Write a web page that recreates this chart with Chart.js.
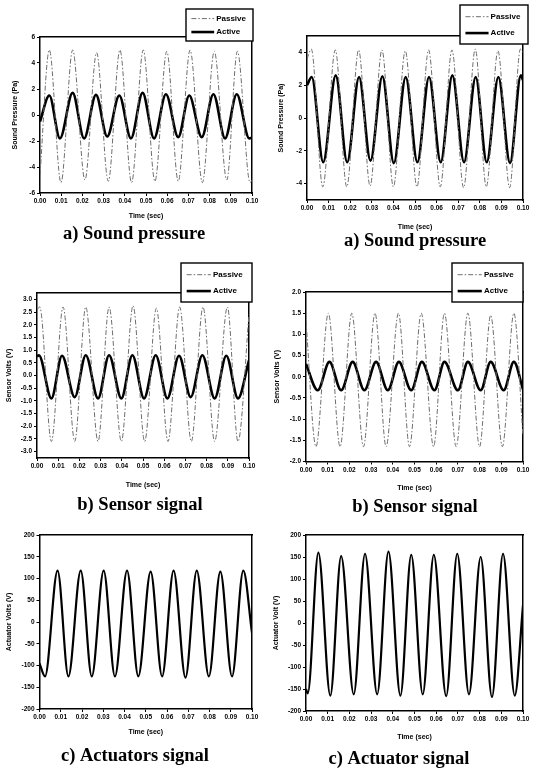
<!DOCTYPE html>
<html>
<head>
<meta charset="utf-8">
<script src="https://cdn.jsdelivr.net/npm/chart.js@4.4.1/dist/chart.umd.min.js"></script>
<style>
  html, body { margin: 0; padding: 0; background: #fff; }
  body { width: 537px; height: 770px; position: relative; overflow: hidden; }
  canvas { position: absolute; }
</style>
</head>
<body>
<canvas id="cA"></canvas>
<canvas id="cB"></canvas>
<canvas id="cC"></canvas>
<canvas id="cD"></canvas>
<canvas id="cE"></canvas>
<canvas id="cF"></canvas>
<script>
// ---------- shared axis ticks ----------
const X_TICKS = [0, 0.01, 0.02, 0.03, 0.04, 0.05, 0.06, 0.07, 0.08, 0.09, 0.10];
const X_TICK_LABELS = ['0.00', '0.01', '0.02', '0.03', '0.04', '0.05', '0.06', '0.07', '0.08', '0.09', '0.10'];

const A_Y_TICKS = [-6, -4, -2, 0, 2, 4, 6];
const A_Y_LABELS = ['-6', '-4', '-2', '0', '2', '4', '6'];
const B_Y_TICKS = [-4, -2, 0, 2, 4];
const B_Y_LABELS = ['-4', '-2', '0', '2', '4'];
const C_Y_TICKS = [-3, -2.5, -2, -1.5, -1, -0.5, 0, 0.5, 1, 1.5, 2, 2.5, 3];
const C_Y_LABELS = ['-3.0', '-2.5', '-2.0', '-1.5', '-1.0', '-0.5', '0.0', '0.5', '1.0', '1.5', '2.0', '2.5', '3.0'];
const D_Y_TICKS = [-2, -1.5, -1, -0.5, 0, 0.5, 1, 1.5, 2];
const D_Y_LABELS = ['-2.0', '-1.5', '-1.0', '-0.5', '0.0', '0.5', '1.0', '1.5', '2.0'];
const E_Y_TICKS = [-200, -150, -100, -50, 0, 50, 100, 150, 200];
const E_Y_LABELS = ['-200', '-150', '-100', '-50', '0', '50', '100', '150', '200'];

// ---------- panel a (left): sound pressure ----------
const A_PASSIVE_T = [0, 0.0044, 0.0099, 0.0154, 0.0212, 0.0267, 0.0322, 0.0377, 0.0432, 0.0487, 0.0542, 0.0598, 0.0652, 0.0708, 0.0766, 0.0822, 0.0881, 0.0931, 0.0991, 0.1];
const A_PASSIVE_V = [-4.6, 5.0, -5.2, 5.0, -5.0, 4.8, -5.1, 5.0, -5.2, 5.0, -5.1, 4.9, -5.1, 5.0, -5.2, 4.9, -5.0, 4.9, -5.2, -5.0];
const A_ACTIVE_T = [0, 0.0044, 0.0094, 0.0154, 0.0208, 0.0264, 0.0317, 0.0374, 0.0429, 0.0484, 0.0538, 0.0594, 0.0652, 0.0704, 0.0763, 0.0818, 0.0873, 0.0928, 0.0987, 0.1];
const A_ACTIVE_V = [-0.5, 1.5, -1.8, 1.7, -1.8, 1.55, -1.65, 1.5, -1.8, 1.7, -1.8, 1.6, -1.7, 1.5, -1.7, 1.6, -1.8, 1.6, -1.8, -1.75];

// ---------- panel a (right): sound pressure ----------
const B_PASSIVE_T = [0, 0.0020, 0.0073, 0.0131, 0.0184, 0.0239, 0.0292, 0.0347, 0.0400, 0.0455, 0.0509, 0.0563, 0.0617, 0.0671, 0.0725, 0.0779, 0.0830, 0.0884, 0.0938, 0.0988, 0.1];
const B_PASSIVE_V = [3.6, 4.2, -4.2, 4.15, -4.2, 4.15, -4.15, 4.15, -4.2, 4.1, -4.2, 4.15, -4.2, 4.15, -4.25, 4.2, -4.2, 4.1, -4.25, 4.2, 4.0];
const B_ACTIVE_T = [0, 0.0022, 0.0075, 0.0133, 0.0186, 0.0241, 0.0294, 0.0349, 0.0402, 0.0457, 0.0511, 0.0565, 0.0619, 0.0673, 0.0727, 0.0781, 0.0832, 0.0886, 0.0940, 0.0990, 0.1];
const B_ACTIVE_V = [2.0, 2.5, -2.7, 2.6, -2.7, 2.5, -2.6, 2.55, -2.75, 2.5, -2.7, 2.5, -2.7, 2.6, -2.7, 2.5, -2.7, 2.5, -2.75, 2.6, 2.3];

// ---------- panel b (left): sensor signal ----------
const C_PASSIVE_T = [0, 0.0013, 0.0068, 0.0123, 0.0178, 0.0230, 0.0288, 0.0340, 0.0398, 0.0453, 0.0508, 0.0563, 0.0618, 0.0673, 0.0728, 0.0783, 0.0838, 0.0898, 0.0948, 0.1];
const C_PASSIVE_V = [2.6, 2.7, -2.6, 2.7, -2.6, 2.7, -2.6, 2.7, -2.6, 2.75, -2.6, 2.65, -2.6, 2.7, -2.6, 2.7, -2.6, 2.7, -2.6, 2.4];
const C_ACTIVE_T = [0, 0.0009, 0.0068, 0.0118, 0.0178, 0.0230, 0.0288, 0.0340, 0.0398, 0.0450, 0.0505, 0.0560, 0.0615, 0.0670, 0.0725, 0.0780, 0.0838, 0.0893, 0.0948, 0.1];
const C_ACTIVE_V = [0.75, 0.8, -0.9, 0.78, -0.85, 0.8, -0.9, 0.8, -0.9, 0.8, -0.9, 0.8, -0.9, 0.78, -0.85, 0.8, -0.9, 0.78, -0.9, 0.6];

// ---------- panel b (right): sensor signal ----------
const D_PASSIVE_T = [0, 0.0046, 0.0103, 0.0157, 0.0211, 0.0265, 0.0318, 0.0369, 0.0426, 0.0477, 0.0531, 0.0588, 0.0638, 0.0692, 0.0746, 0.0800, 0.0851, 0.0905, 0.0958, 0.1];
const D_PASSIVE_V = [1.3, -1.65, 1.5, -1.65, 1.5, -1.65, 1.5, -1.65, 1.5, -1.65, 1.5, -1.65, 1.5, -1.65, 1.5, -1.65, 1.45, -1.65, 1.5, -1.4];
const D_ACTIVE_T = [0, 0.0054, 0.0108, 0.0162, 0.0215, 0.0269, 0.0323, 0.0377, 0.0428, 0.0485, 0.0534, 0.0592, 0.0638, 0.0700, 0.0746, 0.0805, 0.0851, 0.0911, 0.0958, 0.1];
const D_ACTIVE_V = [0.3, -0.32, 0.35, -0.32, 0.35, -0.32, 0.35, -0.32, 0.35, -0.32, 0.35, -0.32, 0.35, -0.32, 0.35, -0.32, 0.35, -0.32, 0.35, -0.3];

// ---------- panel c (left): actuators signal ----------
const E_ACT_T = [0, 0.0026, 0.0085, 0.0136, 0.0194, 0.0246, 0.0302, 0.0355, 0.0412, 0.0465, 0.0523, 0.0577, 0.0631, 0.0687, 0.0740, 0.0797, 0.0851, 0.0906, 0.0959, 0.1];
const E_ACT_V = [-95, -125, 118, -125, 118, -125, 118, -125, 118, -125, 116, -125, 118, -128, 118, -125, 116, -125, 118, -25];

// ---------- panel c (right): actuator signal ----------
const F_ACT_T = [0, 0.0008, 0.0057, 0.0112, 0.0162, 0.0220, 0.0272, 0.0328, 0.0380, 0.0435, 0.0485, 0.0538, 0.0589, 0.0646, 0.0697, 0.0751, 0.0805, 0.0857, 0.0908, 0.0962, 0.1];
const F_ACT_V = [-150, -160, 160, -165, 152, -162, 157, -162, 162, -165, 155, -162, 155, -166, 157, -162, 150, -168, 157, -165, 40];

// ---------- styles ----------
const PASSIVE_STYLE = { color: '#6e6e6e', width: 1, dash: [5, 2, 1.5, 2] };
const ACTIVE_STYLE = { color: '#000000', width: 2.6, dash: [] };
const ACT_STYLE = { color: '#000000', width: 2.2, dash: [] };

const FONT = '"Liberation Sans", Arial, sans-serif';

const boxLegendPlugin = {
  id: 'boxLegend',
  afterDraw(chart, args, opts) {
    const ctx = chart.ctx;
    ctx.save();
    if (opts.box) {
      const [x0, y0, x1, y1] = opts.box;
      const w = x1 - x0, h = y1 - y0;
      ctx.fillStyle = '#fff';
      ctx.fillRect(x0, y0, w, h);
      ctx.strokeStyle = '#000';
      ctx.lineWidth = 1.4;
      ctx.strokeRect(x0, y0, w, h);
      const ds = chart.data.datasets;
      ds.forEach((d, i) => {
        const y = y0 + h * (0.3 + (ds.length > 1 ? 0.42 * i / (ds.length - 1) : 0));
        ctx.beginPath();
        ctx.setLineDash(d.borderDash || []);
        ctx.lineWidth = d.borderWidth;
        ctx.strokeStyle = d.borderColor;
        ctx.moveTo(x0 + 0.08 * w, y);
        ctx.lineTo(x0 + 0.42 * w, y);
        ctx.stroke();
        ctx.setLineDash([]);
        ctx.fillStyle = '#000';
        ctx.font = 'bold 8px ' + FONT;
        ctx.textBaseline = 'middle';
        ctx.textAlign = 'left';
        ctx.fillText(d.label, x0 + 0.45 * w, y);
      });
    }
    ctx.restore();
  }
};

function buildPanel(p) {
  const canvas = document.getElementById(p.id);
  const xlh = 7 * 1.2;
  const ylh = 7 * 1.2;
  const capLh = 18.5;
  let w2 = 2 * p.capX - p.cl - p.R;
  const cw = Math.ceil(p.R + w2 - p.cl);
  w2 = cw - (p.R - p.cl);
  const yW = p.L - p.cl;
  const Hx = p.timeY + xlh / 2 - p.B;
  const capPadTop = p.capY - capLh / 2 - (p.B + Hx);
  const ch = Math.ceil(p.B + Hx + capPadTop + capLh + 3 - p.ct);
  const capPadBottom = (p.ct + ch) - (p.B + Hx + capPadTop + capLh);
  const yTitlePad = p.yTitleX - p.cl - ylh / 2;

  canvas.width = cw;
  canvas.height = ch;
  canvas.style.left = p.cl + 'px';
  canvas.style.top = p.ct + 'px';
  canvas.style.width = cw + 'px';
  canvas.style.height = ch + 'px';

  const legendBox = p.legend ? [p.legend[0] - p.cl, p.legend[1] - p.ct, p.legend[2] - p.cl, p.legend[3] - p.ct] : null;

  new Chart(canvas, {
    type: 'line',
    data: {
      datasets: p.series.map(s => ({
        label: s.label,
        data: s.t.map((t, i) => ({ x: t, y: s.v[i] })),
        borderColor: s.style.color,
        borderWidth: s.style.width,
        borderDash: s.style.dash,
        pointRadius: 0,
        fill: false,
        cubicInterpolationMode: 'monotone'
      }))
    },
    options: {
      responsive: false,
      animation: false,
      devicePixelRatio: 1,
      events: [],
      layout: { padding: { left: 0, top: p.T - p.ct, right: 0, bottom: 0 } },
      plugins: {
        legend: { display: false },
        tooltip: { enabled: false },
        title: {
          display: true,
          text: p.caption,
          position: 'bottom',
          fullSize: true,
          color: '#000',
          font: { family: '"Liberation Serif", "Times New Roman", serif', size: 18.5, weight: 'bold', lineHeight: 1 },
          padding: { top: capPadTop, bottom: capPadBottom }
        },
        boxLegend: { box: legendBox }
      },
      scales: {
        x: {
          type: 'linear',
          position: 'bottom',
          min: 0,
          max: 0.1,
          afterBuildTicks: s => { s.ticks = X_TICKS.map(v => ({ value: v })); },
          afterFit: s => { s.height = Hx; },
          ticks: {
            callback: (v, i) => X_TICK_LABELS[i],
            font: { family: FONT, size: 6.5, weight: 'bold' },
            color: '#000',
            padding: 1.5,
            maxRotation: 0,
            autoSkip: false
          },
          grid: { display: true, drawOnChartArea: false, drawTicks: true, tickLength: 3, color: '#000', lineWidth: 1 },
          border: { display: true, color: '#000', width: 1.5 },
          title: {
            display: true, text: 'Time (sec)', color: '#000',
            font: { family: FONT, size: 7, weight: 'bold' },
            padding: { top: 0, bottom: 0 }
          }
        },
        y: {
          type: 'linear',
          position: 'left',
          min: p.yMin,
          max: p.yMax,
          afterBuildTicks: s => { s.ticks = p.yTicks.map(v => ({ value: v })); },
          afterFit: s => { s.width = yW; },
          ticks: {
            callback: (v, i) => p.yLabels[i],
            font: { family: FONT, size: 6.5, weight: 'bold' },
            color: '#000',
            padding: 2
          },
          grid: { display: true, drawOnChartArea: false, drawTicks: true, tickLength: 3, color: '#000', lineWidth: 1 },
          border: { display: true, color: '#000', width: 1.5 },
          title: {
            display: true, text: p.yTitle, color: '#000',
            font: { family: FONT, size: 7, weight: 'bold' },
            padding: { top: yTitlePad, bottom: 0 }
          }
        },
        x2: {
          type: 'linear',
          position: 'top',
          ticks: { display: false },
          grid: { display: false },
          border: { display: true, color: '#000', width: 1.5 },
          afterFit: s => { s.height = 0; }
        },
        y2: {
          type: 'linear',
          position: 'right',
          ticks: { display: false },
          grid: { display: false },
          border: { display: true, color: '#000', width: 1.5 },
          afterFit: s => { s.width = w2; }
        }
      }
    },
    plugins: [boxLegendPlugin]
  });
}

const PANELS = [
  { id: 'cA', cl: 0, ct: 0, L: 40, R: 252, T: 37, B: 193, yTitleX: 15, timeY: 216, capX: 134, capY: 234.5,
    yMin: -6, yMax: 6, yTicks: A_Y_TICKS, yLabels: A_Y_LABELS, yTitle: 'Sound Pressure (Pa)', caption: 'a) Sound pressure',
    legend: [186, 9, 253, 41],
    series: [
      { label: 'Passive', t: A_PASSIVE_T, v: A_PASSIVE_V, style: PASSIVE_STYLE },
      { label: 'Active', t: A_ACTIVE_T, v: A_ACTIVE_V, style: ACTIVE_STYLE }
    ] },
  { id: 'cB', cl: 272, ct: 0, L: 307, R: 523, T: 36, B: 200, yTitleX: 281, timeY: 227, capX: 415, capY: 241,
    yMin: -5, yMax: 5, yTicks: B_Y_TICKS, yLabels: B_Y_LABELS, yTitle: 'Sound Pressure (Pa)', caption: 'a) Sound pressure',
    legend: [460, 5, 528, 44],
    series: [
      { label: 'Passive', t: B_PASSIVE_T, v: B_PASSIVE_V, style: PASSIVE_STYLE },
      { label: 'Active', t: B_ACTIVE_T, v: B_ACTIVE_V, style: ACTIVE_STYLE }
    ] },
  { id: 'cC', cl: 0, ct: 255, L: 37, R: 249, T: 293, B: 458, yTitleX: 9, timeY: 485, capX: 140, capY: 505.5,
    yMin: -3.25, yMax: 3.25, yTicks: C_Y_TICKS, yLabels: C_Y_LABELS, yTitle: 'Sensor Volts (V)', caption: 'b) Sensor signal',
    legend: [181, 263, 252, 302],
    series: [
      { label: 'Passive', t: C_PASSIVE_T, v: C_PASSIVE_V, style: PASSIVE_STYLE },
      { label: 'Active', t: C_ACTIVE_T, v: C_ACTIVE_V, style: ACTIVE_STYLE }
    ] },
  { id: 'cD', cl: 272, ct: 255, L: 306, R: 523, T: 292, B: 461.5, yTitleX: 277, timeY: 488, capX: 415, capY: 507,
    yMin: -2, yMax: 2, yTicks: D_Y_TICKS, yLabels: D_Y_LABELS, yTitle: 'Sensor Volts (V)', caption: 'b) Sensor signal',
    legend: [452, 263, 523, 302],
    series: [
      { label: 'Passive', t: D_PASSIVE_T, v: D_PASSIVE_V, style: PASSIVE_STYLE },
      { label: 'Active', t: D_ACTIVE_T, v: D_ACTIVE_V, style: ACTIVE_STYLE }
    ] },
  { id: 'cE', cl: 0, ct: 515, L: 39.5, R: 252, T: 535, B: 709, yTitleX: 9, timeY: 732, capX: 135, capY: 756,
    yMin: -200, yMax: 200, yTicks: E_Y_TICKS, yLabels: E_Y_LABELS, yTitle: 'Actuator Volts (V)', caption: 'c) Actuators signal',
    legend: null,
    series: [
      { label: 'Actuator', t: E_ACT_T, v: E_ACT_V, style: ACT_STYLE }
    ] },
  { id: 'cF', cl: 265, ct: 515, L: 306, R: 523, T: 535, B: 711, yTitleX: 276, timeY: 737, capX: 399, capY: 759,
    yMin: -200, yMax: 200, yTicks: E_Y_TICKS, yLabels: E_Y_LABELS, yTitle: 'Actuator Volt (V)', caption: 'c) Actuator signal',
    legend: null,
    series: [
      { label: 'Actuator', t: F_ACT_T, v: F_ACT_V, style: ACT_STYLE }
    ] }
];

PANELS.forEach(buildPanel);
</script>
</body>
</html>
